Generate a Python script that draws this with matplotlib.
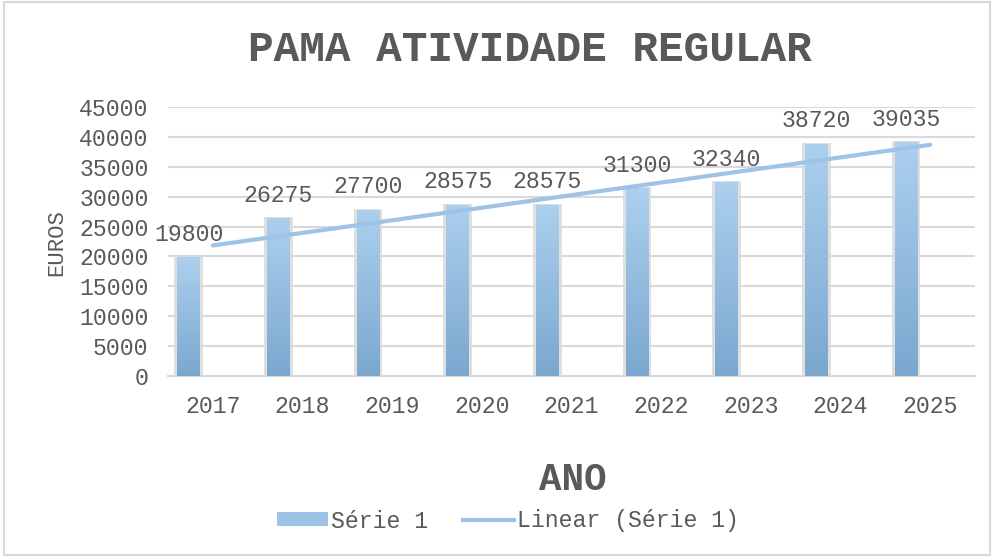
import numpy as np
import matplotlib
matplotlib.use("Agg")
import matplotlib.pyplot as plt
from matplotlib.colors import LinearSegmentedColormap
from matplotlib.patches import Rectangle
from matplotlib.lines import Line2D
from matplotlib.patches import Patch

years = ["2017", "2018", "2019", "2020", "2021", "2022", "2023", "2024", "2025"]
values = [19800, 26275, 27700, 28575, 28575, 31300, 32340, 38720, 39035]
yticks = [0, 5000, 10000, 15000, 20000, 25000, 30000, 35000, 40000, 45000]

plt.rcParams['font.family'] = ['Liberation Mono', 'DejaVu Sans Mono']
TXT = '#595959'
FS = 16.7

fig = plt.figure(figsize=(9.94, 5.57), dpi=100)
ax = fig.add_axes([168/994, 1-376/557, (975-168)/994, (376-107)/557])

x = np.arange(len(years))
off = -0.27
w = 0.25
# shadow
ax.bar(x + off, np.array(values) + 250, width=w + 0.07, color='#dcdcdc', zorder=2, alpha=0.9)
bars = ax.bar(x + off, values, width=w, color='#9dc3e6', zorder=3)
cmap = LinearSegmentedColormap.from_list('g', ['#7ba7cf', '#acd0ee'])
grad = np.linspace(0, 1, 256).reshape(-1, 1)
for b in bars:
    x0 = b.get_x(); h = b.get_height()
    ax.imshow(grad, extent=[x0, x0 + b.get_width(), 0, h], origin='lower', aspect='auto',
              cmap=cmap, zorder=4)

# trendline
coef = np.polyfit(x, values, 1)
trend = np.polyval(coef, x)
ax.plot(x, trend, color='#9dc3e6', lw=3, zorder=5, solid_capstyle='round')

for xi, v in zip(x, values):
    ax.annotate(str(v), (xi + off, v), xytext=(0, 17), textcoords='offset points',
                ha='center', va='center', fontsize=FS, color=TXT, zorder=6)

ax.set_xlim(-0.5, len(years) - 0.5)
ax.set_ylim(0, 45000)
ax.set_yticks(yticks)
ax.set_yticklabels([str(t) for t in yticks], fontsize=FS, color=TXT)
ax.set_xticks(x)
ax.set_xticklabels(years, fontsize=FS, color=TXT)
ax.tick_params(axis='both', length=0)
ax.tick_params(axis='x', pad=14)
ax.tick_params(axis='y', pad=14)
ax.grid(axis='y', color='#d9d9d9', lw=1.5, zorder=0)
for s in ['top', 'right', 'left']:
    ax.spines[s].set_visible(False)
ax.spines['bottom'].set_color('#d9d9d9')
ax.spines['bottom'].set_linewidth(1.5)
ax.set_axisbelow(True)

fig.text(530/994, 1-50/557, "PAMA ATIVIDADE REGULAR", ha='center', va='center',
         fontsize=30.8, fontweight='bold', color=TXT)
fig.text(573/994, 1-480/557, "ANO", ha='center', va='center', fontsize=27,
         fontweight='bold', color=TXT)
fig.text(57/994, 1-243/557, "EUROS", ha='center', va='center', rotation=90,
         fontsize=16, color=TXT)

handles = [Patch(facecolor='#9dc3e6', edgecolor='none'),
           Line2D([0], [0], color='#9dc3e6', lw=3)]
fig.legend(handles, ["Série 1", "Linear (Série 1)"], loc='center',
           bbox_to_anchor=(508/994, 1-521/557), ncol=2, frameon=False,
           fontsize=FS, labelcolor=TXT, handlelength=2.2, handletextpad=0.15,
           columnspacing=1.5, handleheight=0.55)

fig.patches.append(Rectangle((0.004, 0.004), 0.992, 0.992, transform=fig.transFigure,
                             fill=False, edgecolor='#d9d9d9', lw=1.5))

fig.savefig("out.png", dpi=100)
